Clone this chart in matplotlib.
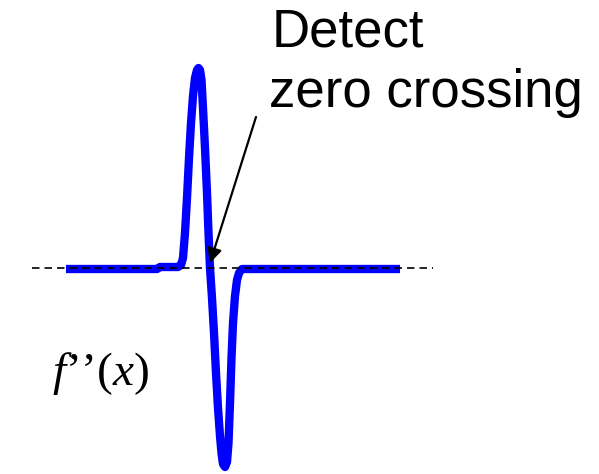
import matplotlib.pyplot as plt

plt.rcParams["mathtext.fontset"] = "custom"
plt.rcParams["mathtext.it"] = "Liberation Serif:italic"
plt.rcParams["mathtext.rm"] = "Liberation Serif"

# Second derivative sketch (x in px-like units, y measured up from the zero line)
curve_x = [66, 157, 160, 178, 181, 183, 185, 187, 189, 191, 193, 195, 197, 198.5,
           200, 201.5, 203, 205, 207, 208.5, 210,
           212, 214, 216, 218, 220, 221.5, 223, 225, 227, 228.5, 230, 231.5,
           233, 235, 237, 239, 242, 400]
curve_y = [-1, -1, 1, 1, 3, 10, 35, 70, 110, 145, 172, 190, 198, 200,
           198, 188, 160, 120, 75, 35, 0,
           -30, -65, -105, -140, -168, -185, -196, -199, -194, -175, -135, -90,
           -55, -28, -12, -5, -1, -1]

zero_x = [32, 433]
zero_y = [0, 0]

arrow_tip = (210, 5)
arrow_tail = (256, 151)

label_top = "Detect"
label_bottom = "zero crossing"
func_label = "$f$\u2019\u2019($x$)"

fig = plt.figure(figsize=(5.99, 4.74), dpi=100)
ax = fig.add_axes([0, 0, 1, 1])
ax.set_xlim(0, 599)
ax.set_ylim(268 - 474, 268)
ax.axis("off")

# blue curve
ax.plot(curve_x, curve_y, color="#0000ff", lw=6, solid_joinstyle="round",
        solid_capstyle="butt", zorder=2)

# dashed zero line on top
ax.plot(zero_x, zero_y, color="black", lw=1.2, dashes=(4.5, 3), zorder=3)

# arrow pointing at the crossing
ax.annotate("", xy=arrow_tip, xytext=arrow_tail,
            arrowprops=dict(arrowstyle="-|>", color="black", lw=1.6,
                            mutation_scale=22, shrinkA=0, shrinkB=0),
            zorder=4)

ax.text(272, 222, label_top, fontsize=38, family="Liberation Sans",
        va="baseline", ha="left")
ax.text(269, 161, label_bottom, fontsize=38, family="Liberation Sans",
        va="baseline", ha="left")
ax.text(52, -117, func_label, fontsize=34, family="Liberation Serif",
        va="baseline", ha="left")

fig.savefig("out.png", dpi=100)
